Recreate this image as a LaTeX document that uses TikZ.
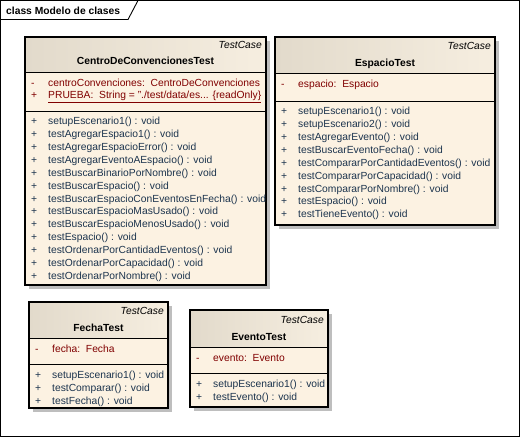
\documentclass[tikz,border=0pt]{standalone}
\usepackage{fontspec}
\setmainfont{Liberation Sans}
\definecolor{hdrL}{RGB}{226,218,203}
\definecolor{hdrR}{RGB}{246,238,224}
\definecolor{bodyc}{RGB}{252,242,226}
\definecolor{shadowc}{RGB}{190,190,190}
\definecolor{optxt}{RGB}{28,52,78}
\definecolor{attxt}{RGB}{128,0,0}
\newcommand\fsz{\fontsize{10.3}{12}\selectfont}
\newcommand\drawclass[6]{%
  \fill[shadowc] (#1+4,#2+4) rectangle (#3+4,#4+4);
  \fill[bodyc] (#1,#2) rectangle (#3,#4);
  \shade[left color=hdrL,right color=hdrR] (#1,#2) rectangle (#3,#5);
  \draw[line width=0.9pt] (#1,#5) -- (#3,#5);
  \draw[line width=0.9pt] (#1,#6) -- (#3,#6);
  \draw[line width=1.1pt] (#1,#2) rectangle (#3,#4);
}
\tikzset{
  txt/.style={inner sep=0pt, text height=7.2pt, text depth=0pt, font=\fsz},
  op/.style={txt, anchor=west, text=optxt},
  attr/.style={txt, anchor=west, text=attxt},
  stereo/.style={inner sep=0pt, text height=7.2pt, text depth=0pt, anchor=east, font=\fsz\itshape},
  cname/.style={inner sep=0pt, text height=7.2pt, text depth=0pt, font=\fsz\bfseries},
}
\begin{document}
\begin{tikzpicture}[x=1pt,y=-1pt]
\useasboundingbox (0,0) rectangle (520,437);
% frame
\draw[line width=0.9pt] (0.5,0.5) rectangle (519,436);
\draw[line width=0.9pt] (0.5,19.5) -- (128,19.5) -- (138,0.5);
\node[cname, anchor=west] (title) at (6,11) {class Modelo de clases};

% ---- CentroDeConvencionesTest
\drawclass{25}{37}{266}{285}{72}{111}
\node[stereo] (s1) at (262,45) {TestCase};
\node[cname] (n1) at (145.5,61) {CentroDeConvencionesTest};
\node[attr] (a1m) at (31,83) {-};
\node[attr] (a1) at (48,83) {centroConvenciones:\ \ CentroDeConvenciones};
\node[attr] (a2m) at (31,95) {+};
\node[attr] (a2) at (48,95) {\underline{PRUEBA:\ \ String = "./test/data/es... \{readOnly\}}};
\foreach \t [count=\i from 0] in {setupEscenario1() : void,testAgregarEspacio1() : void,testAgregarEspacioError() : void,testAgregarEventoAEspacio() : void,testBuscarBinarioPorNombre() : void,testBuscarEspacio() : void,testBuscarEspacioConEventosEnFecha() : void,testBuscarEspacioMasUsado() : void,testBuscarEspacioMenosUsado() : void,testEspacio() : void,testOrdenarPorCantidadEventos() : void,testOrdenarPorCapacidad() : void,testOrdenarPorNombre() : void}{
  \node[op] (p1-\i) at (31,121+12.9*\i) {+};
  \node[op] (m1-\i) at (48,121+12.9*\i) {\t};
}

% ---- EspacioTest
\drawclass{275}{37}{495}{225}{73}{101}
\node[stereo] (s2) at (491,46) {TestCase};
\node[cname] (n2) at (385,63) {EspacioTest};
\node[attr] (b1m) at (281,84) {-};
\node[attr] (b1) at (298,84) {espacio:\ \ Espacio};
\foreach \t [count=\i from 0] in {setupEscenario1() : void,setupEscenario2() : void,testAgregarEvento() : void,testBuscarEventoFecha() : void,testCompararPorCantidadEventos() : void,testCompararPorCapacidad() : void,testCompararPorNombre() : void,testEspacio() : void,testTieneEvento() : void}{
  \node[op] (p2-\i) at (281,111+12.9*\i) {+};
  \node[op] (m2-\i) at (298,111+12.9*\i) {\t};
}

% ---- FechaTest
\drawclass{29}{302}{168}{408}{338}{364}
\node[stereo] (s3) at (164,311) {TestCase};
\node[cname] (n3) at (98.5,328) {FechaTest};
\node[attr] (c1m) at (35,349) {-};
\node[attr] (c1) at (52,349) {fecha:\ \ Fecha};
\foreach \t [count=\i from 0] in {setupEscenario1() : void,testComparar() : void,testFecha() : void}{
  \node[op] (p3-\i) at (35,375+12.9*\i) {+};
  \node[op] (m3-\i) at (52,375+12.9*\i) {\t};
}

% ---- EventoTest
\drawclass{190}{310}{328}{407}{347}{373}
\node[stereo] (s4) at (324,320) {TestCase};
\node[cname] (n4) at (259,337) {EventoTest};
\node[attr] (d1m) at (196,358) {-};
\node[attr] (d1) at (213,358) {evento:\ \ Evento};
\foreach \t [count=\i from 0] in {setupEscenario1() : void,testEvento() : void}{
  \node[op] (p4-\i) at (196,384+12.9*\i) {+};
  \node[op] (m4-\i) at (213,384+12.9*\i) {\t};
}
\end{tikzpicture}
\end{document}
